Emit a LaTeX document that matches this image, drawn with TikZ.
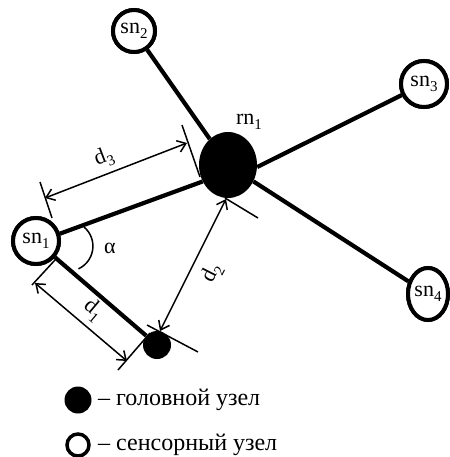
\documentclass[tikz,border=0pt]{standalone}
\usepackage{fontspec}
\setmainfont{Liberation Serif}
\usetikzlibrary{arrows.meta,shapes.geometric}
\newcommand{\lidx}[1]{\raisebox{-0.25em}{\fontsize{15}{15}\selectfont #1}}
\tikzset{
  sensor/.style={circle, draw, line width=4pt, minimum size=44pt, inner sep=0pt, fill=white, font=\fontsize{22}{22}\selectfont},
  headnode/.style={ellipse, fill=black, inner sep=0pt},
  lbl/.style={font=\fontsize{22}{22}\selectfont, inner sep=0pt},
  link/.style={line width=4.2pt},
  dimline/.style={line width=1.5pt},
  dimarrow/.style={dimline, {Straight Barb[length=8pt,width=12pt]}-{Straight Barb[length=8pt,width=12pt]}},
  legtext/.style={font=\fontsize{24}{24}\selectfont, anchor=west, inner sep=0pt}
}
\begin{document}
\begin{tikzpicture}[x=1pt,y=-1pt]
\useasboundingbox (0,0) rectangle (449,457);
% nodes
\node[headnode, minimum width=58pt, minimum height=66pt] (rn1) at (228,165) {};
\node[headnode, minimum size=28pt] (mn) at (157,345) {};
\node[sensor, minimum size=46pt] (sn1) at (36,241) {};
\node[sensor, minimum size=42pt] (sn2) at (134,31) {};
\node[sensor, minimum size=46pt] (sn3) at (424,84) {};
\node[sensor, ellipse, minimum width=40pt, minimum height=52pt] (sn4) at (428,294) {};
\node[lbl] (rnl) at (249,122) {rn\lidx{1}};
% links
\draw[link] (sn1.17) -- (rn1.213);
\draw[link] (sn1) -- (mn);
\draw[link] (rn1) -- (sn2);
\draw[link] (rn1.-4) -- (sn3);
\draw[link] (rn1) -- (sn4);
% sensors on top of the links
\node[sensor, minimum size=46pt] (sn1t) at (sn1) {sn\lidx{1}};
\node[sensor, minimum size=42pt] (sn2t) at (sn2) {sn\lidx{2}};
\node[sensor, minimum size=46pt] (sn3t) at (sn3) {sn\lidx{3}};
\node[sensor, ellipse, minimum width=40pt, minimum height=52pt] (sn4t) at (sn4) {sn\lidx{4}};
% dimension coordinates
\coordinate (e3a) at (40,182); \coordinate (e3b) at (52,218);
\coordinate (e3c) at (182,125); \coordinate (e3d) at (200,177);
\coordinate (d3a) at (45,198); \coordinate (d3b) at (187,143);
\coordinate (e1a) at (32,285); \coordinate (e1b) at (55,260);
\coordinate (e1c) at (118,370); \coordinate (e1d) at (150,333);
\coordinate (d1a) at (35,283); \coordinate (d1b) at (127,361);
\coordinate (e2a) at (225,198); \coordinate (e2b) at (258,218);
\coordinate (e2c) at (147,325); \coordinate (e2d) at (198,352);
\coordinate (d2a) at (226,199); \coordinate (d2b) at (160,331);
% extension lines
\draw[dimline] (e3a) -- (e3b);
\draw[dimline] (e3c) -- (e3d);
\draw[dimline] (e1a) -- (e1b);
\draw[dimline] (e1c) -- (e1d);
\draw[dimline] (e2a) -- (e2b);
\draw[dimline] (e2c) -- (e2d);
% dimension arrows
\draw[dimarrow] (d3a) -- (d3b);
\draw[dimarrow] (d1a) -- (d1b);
\draw[dimarrow] (d2a) -- (d2b);
% labels
\node[lbl, rotate=21] (ld3) at (104,158) {d\lidx{3}};
\node[lbl, rotate=-40] (ld1) at (93,310) {d\lidx{1}};
\node[lbl, rotate=63] (ld2) at (212,273) {d\lidx{2}};
% angle
\coordinate (ac) at (68,246);
\draw[dimline] (84,227) arc[start angle=-50, end angle=65, radius=25];
\node[lbl] (alpha) at (110,248) {α};
% legend
\node[headnode, minimum size=27pt] (lg1) at (78,400) {};
\node[circle, draw, line width=3.5pt, minimum size=22pt, inner sep=0pt] (lg2) at (78,445) {};
\node[legtext] (lt1) at (98,400) {– головной узел};
\node[legtext] (lt2) at (98,445) {– сенсорный узел};
\end{tikzpicture}
\end{document}
